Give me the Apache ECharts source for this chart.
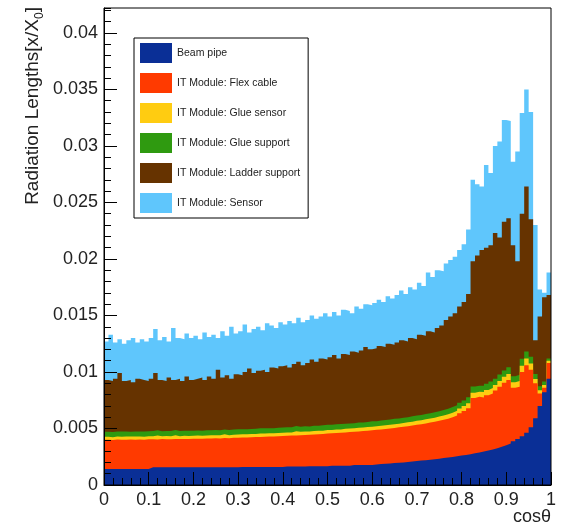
<!DOCTYPE html>
<html>
<head>
<meta charset="utf-8">
<script src="https://cdn.jsdelivr.net/npm/echarts@6/dist/echarts.min.js"></script>
<style>
  html, body { margin: 0; padding: 0; background: #fff; }
  #chart { width: 562px; height: 529px; }
</style>
</head>
<body>
<div id="chart"></div>
<script>
// bin edges of the cos(theta) histogram (100 bins from 0 to 1)
var binEdges = [0.00,0.01,0.02,0.03,0.04,0.05,0.06,0.07,0.08,0.09,
  0.10,0.11,0.12,0.13,0.14,0.15,0.16,0.17,0.18,0.19,
  0.20,0.21,0.22,0.23,0.24,0.25,0.26,0.27,0.28,0.29,
  0.30,0.31,0.32,0.33,0.34,0.35,0.36,0.37,0.38,0.39,
  0.40,0.41,0.42,0.43,0.44,0.45,0.46,0.47,0.48,0.49,
  0.50,0.51,0.52,0.53,0.54,0.55,0.56,0.57,0.58,0.59,
  0.60,0.61,0.62,0.63,0.64,0.65,0.66,0.67,0.68,0.69,
  0.70,0.71,0.72,0.73,0.74,0.75,0.76,0.77,0.78,0.79,
  0.80,0.81,0.82,0.83,0.84,0.85,0.86,0.87,0.88,0.89,
  0.90,0.91,0.92,0.93,0.94,0.95,0.96,0.97,0.98,0.99,1.00];

// contributions of each material, per bin (stacked bottom to top)
var beamPipe = [0.00142,0.00142,0.00142,0.00142,0.00142,0.00142,0.00142,0.00142,0.00142,0.00142,
  0.00156,0.00156,0.00156,0.00156,0.00156,0.00156,0.00156,0.00156,0.00156,0.00156,
  0.00158,0.00158,0.00158,0.00158,0.00158,0.00158,0.00158,0.00158,0.00158,0.00158,
  0.00160,0.00160,0.00160,0.00160,0.00160,0.00160,0.00160,0.00160,0.00160,0.00160,
  0.00163,0.00163,0.00163,0.00163,0.00163,0.00166,0.00166,0.00166,0.00166,0.00166,
  0.00170,0.00170,0.00170,0.00170,0.00170,0.00176,0.00176,0.00176,0.00176,0.00176,
  0.00182,0.00185,0.00188,0.00191,0.00194,0.00197,0.00200,0.00204,0.00208,0.00212,
  0.00216,0.00220,0.00224,0.00228,0.00233,0.00238,0.00243,0.00248,0.00254,0.00260,
  0.00266,0.00273,0.00280,0.00288,0.00296,0.00305,0.00315,0.00326,0.00338,0.00352,
  0.00368,0.00386,0.00407,0.00432,0.00462,0.00510,0.00590,0.00700,0.00820,0.00940];

var flexCable = [0.00258,0.00256,0.00260,0.00258,0.00259,0.00261,0.00258,0.00260,0.00259,0.00262,
  0.00249,0.00247,0.00250,0.00249,0.00248,0.00251,0.00250,0.00252,0.00251,0.00253,
  0.00252,0.00251,0.00254,0.00253,0.00255,0.00254,0.00257,0.00256,0.00259,0.00260,
  0.00260,0.00261,0.00262,0.00264,0.00265,0.00267,0.00268,0.00270,0.00271,0.00273,
  0.00272,0.00274,0.00276,0.00278,0.00280,0.00279,0.00281,0.00284,0.00286,0.00289,
  0.00287,0.00290,0.00292,0.00295,0.00298,0.00295,0.00298,0.00301,0.00304,0.00308,
  0.00306,0.00307,0.00308,0.00309,0.00311,0.00313,0.00315,0.00316,0.00318,0.00320,
  0.00322,0.00325,0.00328,0.00332,0.00335,0.00339,0.00344,0.00352,0.00361,0.00375,
  0.00389,0.00407,0.00490,0.00492,0.00479,0.00490,0.00495,0.00509,0.00532,0.00553,
  0.00562,0.00474,0.00463,0.00568,0.00598,0.00510,0.00310,0.00110,0.00040,0.00140];

var glueSensor = [0.00027,0.00025,0.00028,0.00026,0.00027,0.00025,0.00028,0.00027,0.00026,0.00028,
  0.00027,0.00036,0.00026,0.00028,0.00027,0.00034,0.00026,0.00028,0.00027,0.00026,
  0.00028,0.00027,0.00026,0.00029,0.00027,0.00028,0.00033,0.00027,0.00028,0.00029,
  0.00028,0.00027,0.00029,0.00028,0.00030,0.00028,0.00029,0.00027,0.00029,0.00030,
  0.00029,0.00028,0.00036,0.00029,0.00030,0.00029,0.00031,0.00030,0.00029,0.00031,
  0.00030,0.00031,0.00030,0.00032,0.00031,0.00030,0.00032,0.00031,0.00033,0.00032,
  0.00031,0.00033,0.00032,0.00034,0.00033,0.00032,0.00034,0.00035,0.00034,0.00036,
  0.00035,0.00036,0.00037,0.00036,0.00038,0.00037,0.00039,0.00040,0.00041,0.00042,
  0.00043,0.00044,0.00046,0.00045,0.00047,0.00046,0.00048,0.00049,0.00050,0.00052,
  0.00053,0.00048,0.00050,0.00056,0.00060,0.00055,0.00038,0.00028,0.00025,0.00020];

var glueSupport = [0.00045,0.00046,0.00044,0.00047,0.00045,0.00044,0.00046,0.00045,0.00047,0.00044,
  0.00045,0.00046,0.00044,0.00045,0.00047,0.00045,0.00046,0.00044,0.00045,0.00046,
  0.00045,0.00044,0.00046,0.00045,0.00047,0.00045,0.00044,0.00046,0.00045,0.00047,
  0.00045,0.00046,0.00044,0.00045,0.00046,0.00047,0.00045,0.00044,0.00046,0.00045,
  0.00046,0.00045,0.00047,0.00045,0.00046,0.00044,0.00046,0.00045,0.00047,0.00046,
  0.00045,0.00046,0.00047,0.00045,0.00046,0.00045,0.00047,0.00046,0.00045,0.00047,
  0.00046,0.00045,0.00047,0.00046,0.00048,0.00046,0.00047,0.00045,0.00048,0.00047,
  0.00047,0.00048,0.00046,0.00048,0.00047,0.00049,0.00048,0.00050,0.00049,0.00051,
  0.00050,0.00052,0.00055,0.00054,0.00056,0.00055,0.00057,0.00056,0.00058,0.00057,
  0.00058,0.00055,0.00056,0.00060,0.00062,0.00060,0.00045,0.00035,0.00030,0.00020];

var ladderSupport = [0.00458,0.00451,0.00466,0.00517,0.00447,0.00458,0.00436,0.00466,0.00456,0.00444,
  0.00463,0.00505,0.00454,0.00442,0.00472,0.00444,0.00462,0.00440,0.00481,0.00449,
  0.00457,0.00470,0.00446,0.00475,0.00453,0.00535,0.00458,0.00483,0.00450,0.00486,
  0.00477,0.00506,0.00535,0.00493,0.00509,0.00518,0.00498,0.00539,0.00524,0.00542,
  0.00550,0.00530,0.00548,0.00575,0.00541,0.00562,0.00586,0.00565,0.00592,0.00578,
  0.00598,0.00613,0.00581,0.00618,0.00605,0.00634,0.00617,0.00636,0.00662,0.00637,
  0.00645,0.00660,0.00645,0.00670,0.00654,0.00672,0.00684,0.00670,0.00692,0.00675,
  0.00710,0.00691,0.00725,0.00706,0.00737,0.00747,0.00786,0.00800,0.00815,0.00852,
  0.00872,0.00914,0.01109,0.01151,0.01202,0.01204,0.01205,0.01290,0.01212,0.01316,
  0.01319,0.01157,0.01004,0.01284,0.01458,0.01215,0.00297,0.00617,0.00745,0.00560];

var sensor = [0.0034,0.0041,0.0032,0.0030,0.0033,0.0035,0.0039,0.0032,0.0036,0.0035,
  0.0036,0.0039,0.0035,0.0039,0.0032,0.0046,0.0036,0.0037,0.0038,0.0037,
  0.0038,0.0034,0.0042,0.0035,0.0039,0.0028,0.0041,0.0035,0.0046,0.0036,
  0.0039,0.0042,0.0032,0.0039,0.0039,0.0035,0.0043,0.0037,0.0036,0.0039,
  0.0036,0.0041,0.0036,0.0039,0.0038,0.0038,0.0039,0.0038,0.0037,0.0041,
  0.0036,0.0038,0.0038,0.0039,0.0039,0.0034,0.0041,0.0037,0.0038,0.0039,
  0.0040,0.0041,0.0040,0.0042,0.0041,0.0042,0.0044,0.0042,0.0045,0.0044,
  0.0046,0.0044,0.0052,0.0049,0.0051,0.0048,0.0050,0.0050,0.0050,0.0050,
  0.0051,0.0057,0.0072,0.0063,0.0056,0.0073,0.0064,0.0077,0.0085,0.0090,
  0.0086,0.0074,0.0097,0.0089,0.0086,0.0095,0.0102,0.0024,0.0004,0.0020];

var seriesNames = ['Beam pipe', 'IT Module: Flex cable', 'IT Module: Glue sensor',
  'IT Module: Glue support', 'IT Module: Ladder support', 'IT Module: Sensor'];
var seriesColors = ['#0a2f96', '#ff3a00', '#ffcc11', '#2f9a10', '#663300', '#5fc6fc'];
var seriesValues = [beamPipe, flexCable, glueSensor, glueSupport, ladderSupport, sensor];

var yTickLabels = ['0', '0.005', '0.01', '0.015', '0.02', '0.025', '0.03', '0.035', '0.04'];
var xTickLabels = ['0', '0.1', '0.2', '0.3', '0.4', '0.5', '0.6', '0.7', '0.8', '0.9', '1'];

var FONT = '"Liberation Sans", Arial, Helvetica, sans-serif';

// stack like THStack: each layer is drawn from 0 up to the running sum,
// top layer first so the lower ones cover it
var running = binEdges.slice(0, binEdges.length - 1).map(function () { return 0; });
var cumulative = seriesValues.map(function (vals) {
  running = running.map(function (s, i) { return s + vals[i]; });
  return running.slice();
});

// step histogram: value of bin i held from edge i to edge i+1
function histData(values) {
  return binEdges.map(function (e, i) {
    return [e, values[Math.min(i, values.length - 1)]];
  });
}

var chart = echarts.init(document.getElementById('chart'), null, { renderer: 'canvas' });

var series = [];
for (var k = seriesNames.length - 1; k >= 0; k--) {
  series.push({
    name: seriesNames[k],
    type: 'line',
    step: 'end',
    symbol: 'none',
    showSymbol: false,
    z: 2,
    lineStyle: { width: 0 },
    itemStyle: { color: seriesColors[k] },
    areaStyle: { color: seriesColors[k], opacity: 1, origin: 'start' },
    emphasis: { disabled: true },
    data: histData(cumulative[k])
  });
}

var option = {
  animation: false,
  backgroundColor: '#fff',
  grid: {
    left: 104, top: 8, right: 11, bottom: 44,
    show: true, borderColor: '#000', borderWidth: 1,
    backgroundColor: 'transparent', z: 10,
    outerBoundsMode: 'none'
  },
  legend: {
    orient: 'vertical',
    left: 134, top: 38,
    padding: [5, 8, 5, 6],
    itemWidth: 32, itemHeight: 20, itemGap: 10,
    icon: 'rect',
    selectedMode: false,
    backgroundColor: '#fff',
    borderColor: '#000', borderWidth: 1,
    textStyle: { fontFamily: FONT, fontSize: 10.5, color: '#222' },
    data: seriesNames
  },
  xAxis: {
    type: 'value', min: 0, max: 1, interval: 0.1, z: 12,
    axisLine: { lineStyle: { color: '#000', width: 1 } },
    axisTick: { inside: true, length: 13, lineStyle: { color: '#000' } },
    minorTick: { show: true, splitNumber: 5, length: 7, lineStyle: { color: '#000' } },
    splitLine: { show: false },
    axisLabel: {
      margin: 6, color: '#222', fontFamily: FONT, fontSize: 18,
      formatter: function (v) { return xTickLabels[Math.round(v * 10)] || ''; }
    }
  },
  yAxis: [{
    type: 'value', min: 0, max: 0.0422, interval: 0.005, z: 12,
    position: 'left',
    axisLine: { show: true, lineStyle: { color: '#000', width: 1 } },
    axisTick: { inside: true, length: 13, lineStyle: { color: '#000' } },
    splitLine: { show: false },
    axisLabel: {
      margin: 6, color: '#222', fontFamily: FONT, fontSize: 18,
      showMaxLabel: false,
      formatter: function (v) {
        var k = Math.round(v / 0.005);
        return Math.abs(k * 0.005 - v) < 1e-9 ? (yTickLabels[k] || '') : '';
      }
    }
  }, {
    // minor ticks every 0.001
    type: 'value', min: 0, max: 0.0422, interval: 0.001, z: 12,
    position: 'left', offset: 0,
    axisLine: { show: false },
    axisTick: { inside: true, length: 7, lineStyle: { color: '#000' } },
    splitLine: { show: false },
    axisLabel: { show: false }
  }],
  graphic: [{
    type: 'text', x: 33, y: 7, rotation: Math.PI / 2, z: 20,
    style: {
      text: 'Radiation Lengths[x/X{sub|0}]',
      align: 'right', verticalAlign: 'middle',
      fontFamily: FONT, fontSize: 19, fill: '#222',
      lineHeight: 26,
      rich: {
        sub: { fontFamily: FONT, fontSize: 12, fill: '#222', verticalAlign: 'bottom', lineHeight: 12 }
      }
    }
  }, {
    type: 'text', x: 551, y: 517, z: 20,
    style: {
      text: 'cosθ', align: 'right', verticalAlign: 'middle',
      fontFamily: FONT, fontSize: 18, fill: '#222'
    }
  }],
  series: series
};

chart.setOption(option);
</script>
</body>
</html>
